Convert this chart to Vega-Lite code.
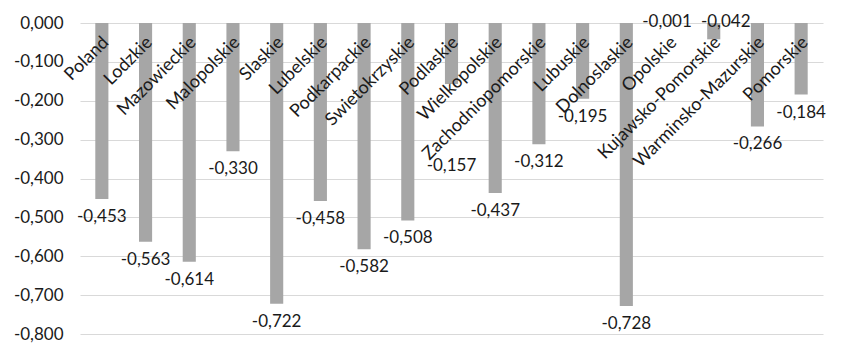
{
  "$schema": "https://vega.github.io/schema/vega-lite/v6.json",
  "width": 743,
  "height": 311,
  "autosize": {"type": "none"},
  "padding": {"left": 80, "top": 23, "right": 24, "bottom": 23},
  "background": "white",
  "config": {
    "view": {"stroke": null},
    "locale": {"number": {"decimal": ",", "thousands": ".", "grouping": [3], "currency": ["", ""], "minus": "-"}},
    "font": "Lato",
    "axisY": {
      "title": null,
      "domain": false, "ticks": false,
      "labelOverlap": false,
      "labelPadding": 17,
      "labelFontSize": 17, "labelColor": "#1a1a1a",
      "labelFont": "Lato",
      "gridColor": "#d9d9d9", "gridWidth": 1
    }
  },
  "data": {
    "values": [
      {"region": "Poland", "v": -0.453},
      {"region": "Lodzkie", "v": -0.563},
      {"region": "Mazowieckie", "v": -0.614},
      {"region": "Malopolskie", "v": -0.330},
      {"region": "Slaskie", "v": -0.722},
      {"region": "Lubelskie", "v": -0.458},
      {"region": "Podkarpackie", "v": -0.582},
      {"region": "Swietokrzyskie", "v": -0.508},
      {"region": "Podlaskie", "v": -0.157},
      {"region": "Wielkopolskie", "v": -0.437},
      {"region": "Zachodniopomorskie", "v": -0.312},
      {"region": "Lubuskie", "v": -0.195},
      {"region": "Dolnoslaskie", "v": -0.728},
      {"region": "Opolskie", "v": -0.001},
      {"region": "Kujawsko-Pomorskie", "v": -0.042},
      {"region": "Warminsko-Mazurskie", "v": -0.266},
      {"region": "Pomorskie", "v": -0.184}
    ]
  },
  "encoding": {
    "x": {
      "field": "region", "type": "nominal", "sort": null,
      "scale": {"paddingInner": 0.7, "paddingOuter": 0.35},
      "axis": null
    }
  },
  "layer": [
    {
      "mark": {"type": "bar", "color": "#a6a6a6"},
      "encoding": {
        "y": {
          "field": "v", "type": "quantitative",
          "scale": {"domain": [-0.8, 0], "nice": false},
          "axis": {"values": [0, -0.1, -0.2, -0.3, -0.4, -0.5, -0.6, -0.7, -0.8], "format": ".3f"}
        }
      }
    },
    {
      "transform": [{"filter": "datum.v <= -0.1 && datum.region !== 'Podlaskie'"}],
      "mark": {"type": "text", "fontSize": 17, "color": "#1a1a1a", "baseline": "middle", "dy": 18},
      "encoding": {
        "y": {"field": "v", "type": "quantitative", "axis": {"values": [0, -0.1, -0.2, -0.3, -0.4, -0.5, -0.6, -0.7, -0.8], "format": ".3f"}},
        "text": {"field": "v", "type": "quantitative", "format": ".3f"}
      }
    },
    {
      "transform": [{"filter": "datum.region === 'Podlaskie'"}],
      "mark": {"type": "text", "fontSize": 17, "color": "#1a1a1a", "baseline": "middle", "dy": 82},
      "encoding": {
        "y": {"field": "v", "type": "quantitative", "axis": {"values": [0, -0.1, -0.2, -0.3, -0.4, -0.5, -0.6, -0.7, -0.8], "format": ".3f"}},
        "text": {"field": "v", "type": "quantitative", "format": ".3f"}
      }
    },
    {
      "transform": [{"filter": "datum.region === 'Opolskie'"}],
      "mark": {"type": "text", "fontSize": 17, "color": "#1a1a1a", "baseline": "middle", "dx": -3, "dy": -1},
      "encoding": {
        "y": {"datum": 0, "type": "quantitative", "axis": {"values": [0, -0.1, -0.2, -0.3, -0.4, -0.5, -0.6, -0.7, -0.8], "format": ".3f"}},
        "text": {"field": "v", "type": "quantitative", "format": ".3f"}
      }
    },
    {
      "transform": [{"filter": "datum.region === 'Kujawsko-Pomorskie'"}],
      "mark": {"type": "text", "fontSize": 17, "color": "#1a1a1a", "baseline": "middle", "dx": 12, "dy": -1},
      "encoding": {
        "y": {"datum": 0, "type": "quantitative", "axis": {"values": [0, -0.1, -0.2, -0.3, -0.4, -0.5, -0.6, -0.7, -0.8], "format": ".3f"}},
        "text": {"field": "v", "type": "quantitative", "format": ".3f"}
      }
    },
    {
      "mark": {"type": "text", "fontSize": 18, "color": "#1a1a1a", "baseline": "middle", "align": "right", "angle": 315, "dx": -9, "dy": 15},
      "encoding": {
        "y": {"datum": 0, "type": "quantitative", "axis": {"values": [0, -0.1, -0.2, -0.3, -0.4, -0.5, -0.6, -0.7, -0.8], "format": ".3f"}},
        "text": {"field": "region", "type": "nominal"}
      }
    }
  ]
}
